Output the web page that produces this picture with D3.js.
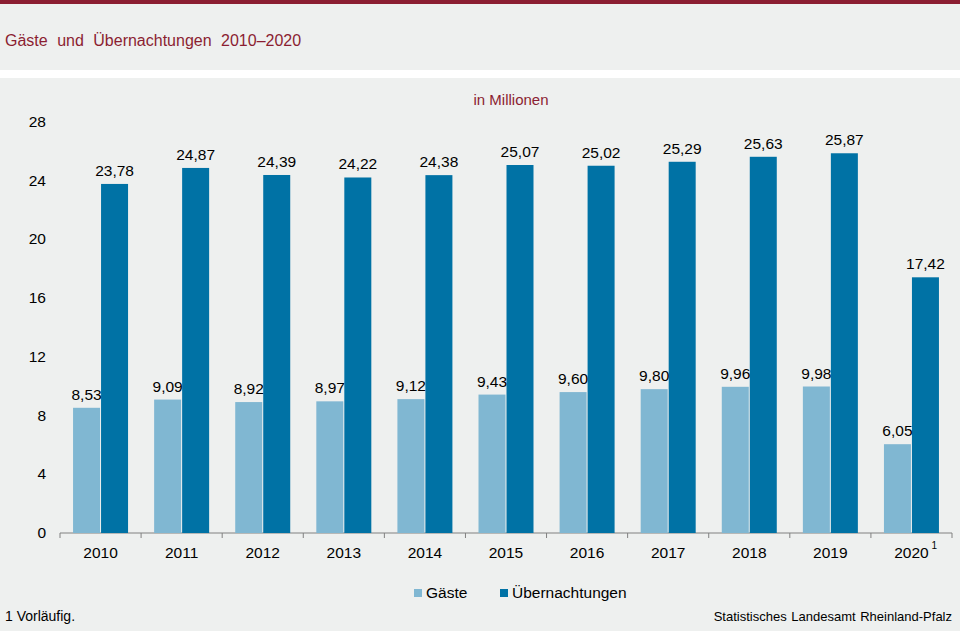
<!DOCTYPE html>
<html>
<head>
<meta charset="utf-8">
<script src="https://cdn.jsdelivr.net/npm/d3@7"></script>
<style>
  body { margin: 0; background: #fff; }
  svg { display: block; font-family: "Liberation Sans", Arial, sans-serif; }
</style>
</head>
<body>
<script>
// data
var years = ["2010", "2011", "2012", "2013", "2014", "2015", "2016", "2017", "2018", "2019", "2020"];
var gaeste = [8.53, 9.09, 8.92, 8.97, 9.12, 9.43, 9.60, 9.80, 9.96, 9.98, 6.05];
var uebernachtungen = [23.78, 24.87, 24.39, 24.22, 24.38, 25.07, 25.02, 25.29, 25.63, 25.87, 17.42];
var yTicks = [0, 4, 8, 12, 16, 20, 24, 28];
var seriesNames = ["Gäste", "Übernachtungen"];
var colors = ["#80b7d2", "#0072a5"];

var W = 960, H = 631;
var margin = {top: 122, right: 8, bottom: 98, left: 60};

var svg = d3.select("body").append("svg")
    .attr("width", W)
    .attr("height", H);

// backgrounds
svg.append("rect").attr("width", W).attr("height", H).attr("fill", "#eef0ef");
svg.append("rect").attr("width", W).attr("height", 4).attr("fill", "#8b1e32");
svg.append("rect").attr("y", 70).attr("width", W).attr("height", 8).attr("fill", "#ffffff");

svg.append("text")
    .attr("x", 5).attr("y", 46)
    .attr("fill", "#8b1e32")
    .style("font-size", "16px")
    .style("word-spacing", "5px")
    .text("Gäste und Übernachtungen 2010–2020");

svg.append("text")
    .attr("x", 511).attr("y", 105)
    .attr("text-anchor", "middle")
    .attr("fill", "#8b1e32")
    .style("font-size", "15px")
    .text("in Millionen");

var x = d3.scaleBand().domain(years).range([margin.left, W - margin.right]);
var y = d3.scaleLinear().domain([0, 28]).range([H - margin.bottom, margin.top]);
var barW = 27;

// x axis
var axis = svg.append("g")
    .attr("transform", "translate(0," + y(0) + ")");
axis.append("line")
    .attr("x1", margin.left).attr("x2", W - margin.right)
    .attr("stroke", "#808080");
axis.selectAll("line.tick")
    .data(years.concat(["end"]))
    .enter().append("line")
    .attr("class", "tick")
    .attr("x1", function(d, i) { return margin.left + i * x.step(); })
    .attr("x2", function(d, i) { return margin.left + i * x.step(); })
    .attr("y1", 0).attr("y2", 5)
    .attr("stroke", "#808080");
axis.selectAll("text")
    .data(years)
    .enter().append("text")
    .attr("x", function(d) { return x(d) + x.bandwidth() / 2; })
    .attr("y", 25)
    .attr("text-anchor", "middle")
    .style("font-size", "15.5px")
    .attr("fill", "#000")
    .text(function(d) { return d; });
svg.append("text")
    .attr("x", x("2020") + x.bandwidth() / 2 + 20)
    .attr("y", y(0) + 16)
    .style("font-size", "10px")
    .text("1");

// y tick labels
svg.selectAll("text.ytick")
    .data(yTicks)
    .enter().append("text")
    .attr("class", "ytick")
    .attr("x", 46)
    .attr("y", function(d) { return y(d) + 5; })
    .attr("text-anchor", "end")
    .style("font-size", "15.5px")
    .text(function(d) { return d; });

var fmt = function(v) { return v.toFixed(2).replace(".", ","); };

[gaeste, uebernachtungen].forEach(function(vals, s) {
    var g = svg.append("g");
    g.selectAll("rect")
        .data(vals)
        .enter().append("rect")
        .attr("x", function(d, i) { return x(years[i]) + x.bandwidth() / 2 - barW - 0.5 + s * (barW + 1); })
        .attr("y", function(d) { return y(d); })
        .attr("width", barW)
        .attr("height", function(d) { return y(0) - y(d); })
        .attr("fill", colors[s]);
});
[gaeste, uebernachtungen].forEach(function(vals, s) {
    svg.append("g").selectAll("text")
        .data(vals)
        .enter().append("text")
        .attr("x", function(d, i) { return x(years[i]) + x.bandwidth() / 2 - barW / 2 - 0.5 + s * (barW + 1); })
        .attr("y", function(d) { return y(d) - 8; })
        .attr("text-anchor", "middle")
        .style("font-size", "15.5px")
        .text(fmt);
});

// legend
var legendX = [414, 500];
seriesNames.forEach(function(name, s) {
    svg.append("rect")
        .attr("x", legendX[s]).attr("y", 589)
        .attr("width", 8).attr("height", 8)
        .attr("fill", colors[s]);
    svg.append("text")
        .attr("x", legendX[s] + 12).attr("y", 598)
        .style("font-size", "15.5px")
        .text(name);
});

svg.append("text")
    .attr("x", 5).attr("y", 621)
    .style("font-size", "14px")
    .text("1 Vorläufig.");
svg.append("text")
    .attr("x", 952).attr("y", 621)
    .attr("text-anchor", "end")
    .style("font-size", "13px")
    .style("word-spacing", "1px")
    .text("Statistisches Landesamt Rheinland-Pfalz");
</script>
</body>
</html>
